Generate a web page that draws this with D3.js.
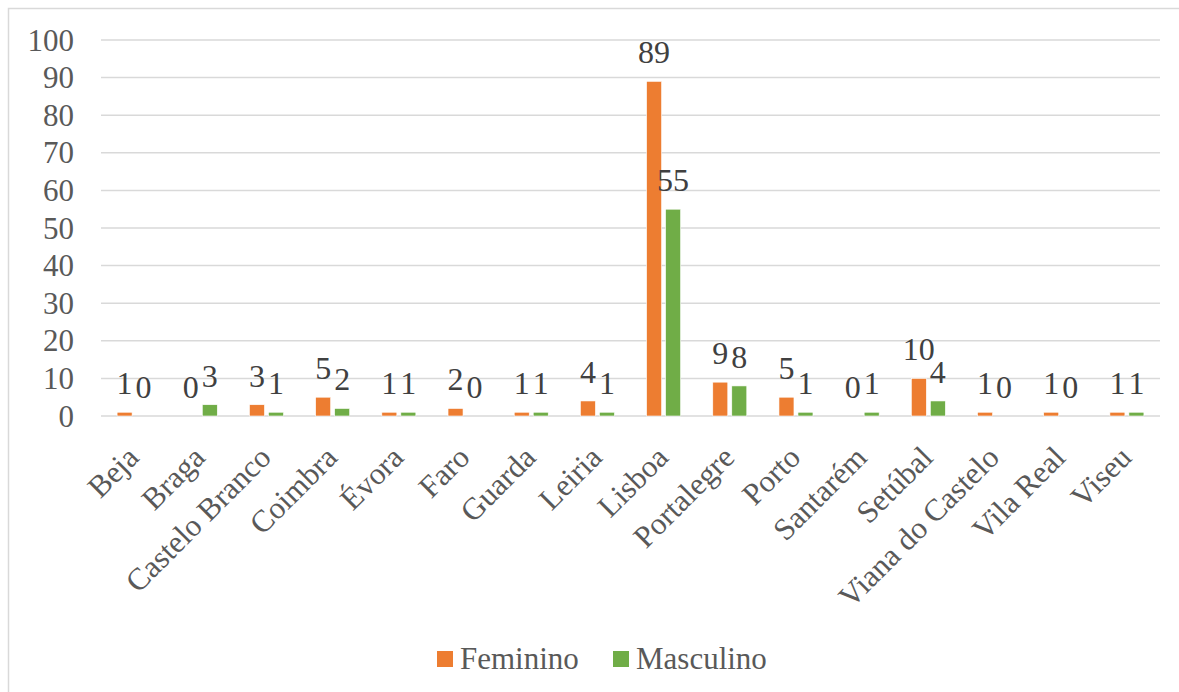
<!DOCTYPE html>
<html>
<head>
<meta charset="utf-8">
<script src="https://d3js.org/d3.v7.min.js"></script>
<style>
  body { margin: 0; background: #fff; }
  text { font-family: "Liberation Serif", "Times New Roman", serif; }
</style>
</head>
<body>
<div id="chart"></div>
<script>
// data
var districts = ["Beja", "Braga", "Castelo Branco", "Coimbra", "Évora", "Faro", "Guarda", "Leiria",
  "Lisboa", "Portalegre", "Porto", "Santarém", "Setúbal", "Viana do Castelo", "Vila Real", "Viseu"];
var feminino = [1, 0, 3, 5, 1, 2, 1, 4, 89, 9, 5, 0, 10, 1, 1, 1];
var masculino = [0, 3, 1, 2, 1, 0, 1, 1, 55, 8, 1, 1, 4, 0, 0, 1];
var seriesNames = ["Feminino", "Masculino"];
var colors = ["#ED7D31", "#70AD47"];
var yTicks = [0, 10, 20, 30, 40, 50, 60, 70, 80, 90, 100];

var W = 1179, H = 692;
var plot = {left: 101, right: 1160, top: 40, bottom: 416};

var svg = d3.select("#chart").append("svg")
  .attr("width", W).attr("height", H);

// chart frame
svg.append("rect")
  .attr("x", 8.5).attr("y", 8.5)
  .attr("width", W + 20).attr("height", H + 20)
  .attr("fill", "#fff").attr("stroke", "#d9d9d9").attr("stroke-width", 1.5);

var x = d3.scaleBand().domain(districts).range([plot.left, plot.right]);
var y = d3.scaleLinear().domain([0, 100]).range([plot.bottom, plot.top]);
var barW = 15, gap = 4;

// grid lines
svg.append("g").selectAll("line")
  .data(yTicks)
  .join("line")
  .attr("x1", plot.left).attr("x2", plot.right)
  .attr("y1", function(d) { return y(d); })
  .attr("y2", function(d) { return y(d); })
  .attr("stroke", "#d9d9d9").attr("stroke-width", 1.5);

// y axis labels
svg.append("g").selectAll("text")
  .data(yTicks)
  .join("text")
  .attr("x", 74).attr("y", function(d) { return y(d); })
  .attr("dy", "0.34em")
  .attr("text-anchor", "end")
  .attr("font-size", 31)
  .attr("fill", "#595959")
  .text(function(d) { return d; });

var series = [feminino, masculino];

series.forEach(function(vals, s) {
  var offset = s === 0 ? -gap / 2 - barW : gap / 2;
  var g = svg.append("g");
  g.selectAll("rect")
    .data(vals)
    .join("rect")
    .attr("x", function(d, i) { return x(districts[i]) + x.bandwidth() / 2 + offset; })
    .attr("y", function(d) { return y(d); })
    .attr("width", barW)
    .attr("height", function(d) { return plot.bottom - y(d); })
    .attr("fill", colors[s])
    .attr("stroke", "#fff").attr("stroke-width", 0.6);

  g.selectAll("text")
    .data(vals)
    .join("text")
    .attr("x", function(d, i) { return x(districts[i]) + x.bandwidth() / 2 + offset + barW / 2; })
    .attr("y", function(d) { return y(d) - 18; })
    .attr("text-anchor", "middle")
    .attr("font-size", 32)
    .attr("fill", "#404040")
    .text(function(d) { return d; });
});

// x axis labels
svg.append("g").selectAll("text")
  .data(districts)
  .join("text")
  .attr("transform", function(d) {
    return "translate(" + (x(d) + x.bandwidth() / 2 - 9) + "," + (plot.bottom + 28) + ") rotate(-45)";
  })
  .attr("dy", "0.7em")
  .attr("text-anchor", "end")
  .attr("font-size", 31)
  .attr("fill", "#595959")
  .text(function(d) { return d; });

// legend
var legend = svg.append("g");
var legX = [437, 613];
seriesNames.forEach(function(n, i) {
  legend.append("rect")
    .attr("x", legX[i]).attr("y", 651)
    .attr("width", 16).attr("height", 16)
    .attr("fill", colors[i]);
  legend.append("text")
    .attr("x", legX[i] + 23).attr("y", 669)
    .attr("font-size", 31)
    .attr("fill", "#595959")
    .text(n);
});
</script>
</body>
</html>
